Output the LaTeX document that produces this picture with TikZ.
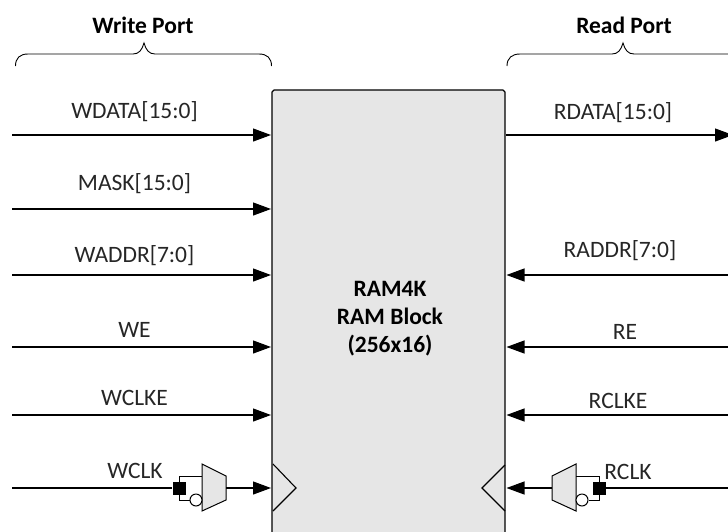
\documentclass[tikz,border=0pt]{standalone}
\usepackage{fontspec}
\setmainfont{Carlito}
\usetikzlibrary{arrows.meta}
\definecolor{blockgrey}{HTML}{E6E6E6}
\definecolor{labelgrey}{HTML}{262626}
\tikzset{
  x=1pt,y=-1pt,
  wire/.style={draw=black,line width=1.1pt},
  sig/.style={wire,-{Triangle[length=18pt,width=13pt]}},
  lab/.style={font=\fontsize{23.5pt}{27pt}\selectfont,text=labelgrey,inner sep=0pt,anchor=center},
  head/.style={font=\fontsize{23.5pt}{27pt}\selectfont\bfseries,text=black,inner sep=0pt,anchor=center},
  blockbox/.style={draw=black,line width=1.1pt,fill=blockgrey,line join=round},
  muxshape/.style={draw=black,line width=1pt,fill=blockgrey,line join=miter},
  brace/.style={draw=black,line width=0.9pt},
  bubble/.style={circle,draw=black,line width=1pt,fill=white,minimum size=12pt,inner sep=0pt},
  pin/.style={rectangle,fill=black,minimum size=13pt,inner sep=0pt}
}
\begin{document}
\begin{tikzpicture}
\useasboundingbox (0,0) rectangle (728,531);
% block
\path[blockbox] (272,540) -- (272,92) -- (274,90) -- (503,90) -- (505,92) -- (505,540) -- cycle;
\coordinate (bw) at (271,0);
\coordinate (be) at (506.5,0);
\node[align=center,font=\fontsize{23.5pt}{28pt}\selectfont\bfseries,inner sep=0pt] (ram) at (390,319) {RAM4K\\RAM Block\\(256x16)};
% braces
\path[brace] (15.5,66) .. controls (15.5,58) and (20,54) .. (28,54) -- (133,54) .. controls (139,54) and (142,50) .. (144,43) .. controls (146,50) and (149,54) .. (155,54) -- (259,54) .. controls (267,54) and (271.5,58) .. (271.5,66);
\path[brace] (507,66) .. controls (507,58) and (512,54) .. (520,54) -- (612,54) .. controls (618,54) and (621,50) .. (623,43) .. controls (625,50) and (628,54) .. (634,54) -- (730,54);
\node[head] (wport) at (143,25) {Write Port};
\node[head] (rport) at (624,25) {Read Port};
% left signals
\foreach \n/\y/\t/\ly in {a/135/WDATA[15:0]/112, b/209/MASK[15:0]/184, c/275/WADDR[7:0]/256, d/347/WE/330, e/415/WCLKE/398}{
  \coordinate (l\n) at (12,\y);
  \draw[sig] (l\n) -- (bw |- l\n);
  \node[lab] (ll\n) at (134.5,\ly) {\t};
}
% right signals
\coordinate (r1) at (728,275);
\coordinate (r2) at (728,347);
\coordinate (r3) at (728,415);
\draw[sig] (r1) -- (be |- r1);
\draw[sig] (r2) -- (be |- r2);
\draw[sig] (r3) -- (be |- r3);
\coordinate (rd) at (506,135);
\coordinate (rdend) at (733,135);
\draw[sig] (rd) -- (rdend);
\node[lab] (lr0) at (613,113) {RDATA[15:0]};
\node[lab] (lr1) at (620,251) {RADDR[7:0]};
\node[lab] (lr2) at (625,332) {RE};
\node[lab] (lr3) at (618,401) {RCLKE};
% clock triangles
\path[draw=black,line width=1.1pt] (273,464) -- (296,488) -- (273,511);
\path[draw=black,line width=1.1pt] (505,465) -- (482,488) -- (505,511);
% write clock
\node[pin] (wpin) at (179,488) {};
\coordinate (wstart) at (12,488);
\draw[wire] (wstart) -- (wpin);
\path[muxshape] (202,464) -- (226,476) -- (226,500) -- (202,511) -- cycle;
\coordinate (wmo) at (226,488);
\draw[sig] (wmo) -- (bw |- wmo);
\coordinate (wt) at (202,476);
\node[bubble] (wbub) at (196,500) {};
\draw[wire,line width=1pt] (wt) -| (wpin.center) |- (wbub);
\node[lab] (wclk) at (135,471) {WCLK};
% read clock
\node[pin] (rpin) at (599,488) {};
\coordinate (rstart) at (728,488);
\draw[wire] (rstart) -- (rpin);
\path[muxshape] (576,464) -- (552,476) -- (552,500) -- (576,511) -- cycle;
\coordinate (rmo) at (552,488);
\draw[sig] (rmo) -- (be |- rmo);
\coordinate (rt) at (576,476);
\node[bubble] (rbub) at (582,500) {};
\draw[wire,line width=1pt] (rt) -| (rpin.center) |- (rbub);
\node[lab] (rclk) at (628,472) {RCLK};
\end{tikzpicture}
\end{document}
